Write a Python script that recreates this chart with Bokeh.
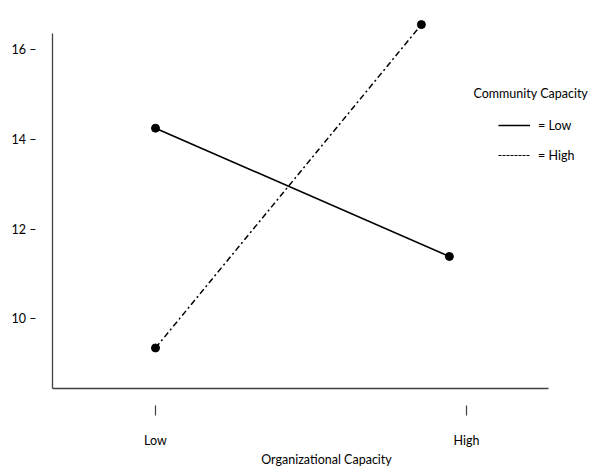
from bokeh.plotting import figure
from bokeh.models import Range1d, FixedTicker, Label, Legend, LegendItem
from bokeh.embed import file_html
from bokeh.resources import INLINE

# ---- data ----
org_levels = ["Low", "High"]          # x categories (Organizational Capacity)
org_tick_pos = [0, 1]
low_cc_x = [0.0, 0.945]               # Community Capacity = Low (solid)
low_cc_y = [14.25, 11.39]
high_cc_x = [0.0, 0.855]              # Community Capacity = High (dash-dot)
high_cc_y = [9.35, 16.56]
y_ticks = [10, 12, 14, 16]
y_tick_labels = ["10 –", "12 –", "14 –", "16 –"]

FONT = "Lato"
FS = "12.5px"
AXIS_COLOR = "#404040"

x_start, x_end, x_axis_end = -0.3312, 1.4309, 1.2637
y_start, y_end, y_axis_top = 8.446, 16.919, 16.361

p = figure(width=600, height=474, output_backend="svg", toolbar_location=None,
           x_range=Range1d(x_start, x_end), y_range=Range1d(y_start, y_end),
           min_border_left=52, min_border_right=0, min_border_top=8,
           min_border_bottom=86)
p.outline_line_color = None
p.grid.visible = False
p.background_fill_color = "white"

# lines and points
r_low = p.line(low_cc_x, low_cc_y, line_color="black", line_width=1.6)
p.scatter(low_cc_x, low_cc_y, size=8, color="black")
p.line(high_cc_x, high_cc_y, line_color="black", line_width=1.5,
       line_dash="6 3 2 3")
p.scatter(high_cc_x, high_cc_y, size=8, color="black")
nan = float("nan")
r_high_sample = p.line([nan, nan], [nan, nan], line_color="black",
                       line_width=1.0, line_dash="3 1")

# x axis
xa = p.xaxis[0]
xa.ticker = FixedTicker(ticks=org_tick_pos)
xa.major_label_overrides = {t: lab for t, lab in zip(org_tick_pos, org_levels)}
xa.bounds = (x_start, x_axis_end)
xa.axis_line_color = AXIS_COLOR
xa.axis_line_width = 1.3
xa.major_tick_in = -17
xa.major_tick_out = 27
xa.major_tick_line_color = AXIS_COLOR
xa.major_tick_line_width = 1.2
xa.minor_tick_line_color = None
xa.major_label_standoff = 17
xa.major_label_text_font = FONT
xa.major_label_text_font_size = FS
xa.major_label_text_color = "black"
xa.axis_label = "Organizational Capacity"
xa.axis_label_text_font = FONT
xa.axis_label_text_font_size = FS
xa.axis_label_text_font_style = "normal"
xa.axis_label_text_color = "black"
xa.axis_label_standoff = 1

# y axis
ya = p.yaxis[0]
ya.ticker = FixedTicker(ticks=y_ticks)
ya.major_label_overrides = {t: lab for t, lab in zip(y_ticks, y_tick_labels)}
ya.bounds = (y_start, y_axis_top)
ya.axis_line_color = AXIS_COLOR
ya.axis_line_width = 1.3
ya.major_tick_line_color = None
ya.major_tick_out = 0
ya.major_tick_in = 0
ya.minor_tick_line_color = None
ya.major_label_standoff = 16
ya.major_label_text_font = FONT
ya.major_label_text_font_size = FS
ya.major_label_text_color = "black"

# legend
legend = Legend(items=[LegendItem(label="= Low", renderers=[r_low]),
                       LegendItem(label="= High", renderers=[r_high_sample])],
                location=(446, 223), glyph_width=32, glyph_height=20,
                label_height=20, label_standoff=8, spacing=10, padding=0,
                margin=0, border_line_color=None, background_fill_alpha=0,
                label_text_font=FONT, label_text_font_size=FS,
                label_text_color="black")
p.add_layout(legend)

p.add_layout(Label(x=1.0225, y=15.023, text="Community Capacity",
                   text_font=FONT, text_font_size=FS, text_color="black",
                   text_align="left", text_baseline="middle"))

open("out.html", "w").write(file_html(p, INLINE))
